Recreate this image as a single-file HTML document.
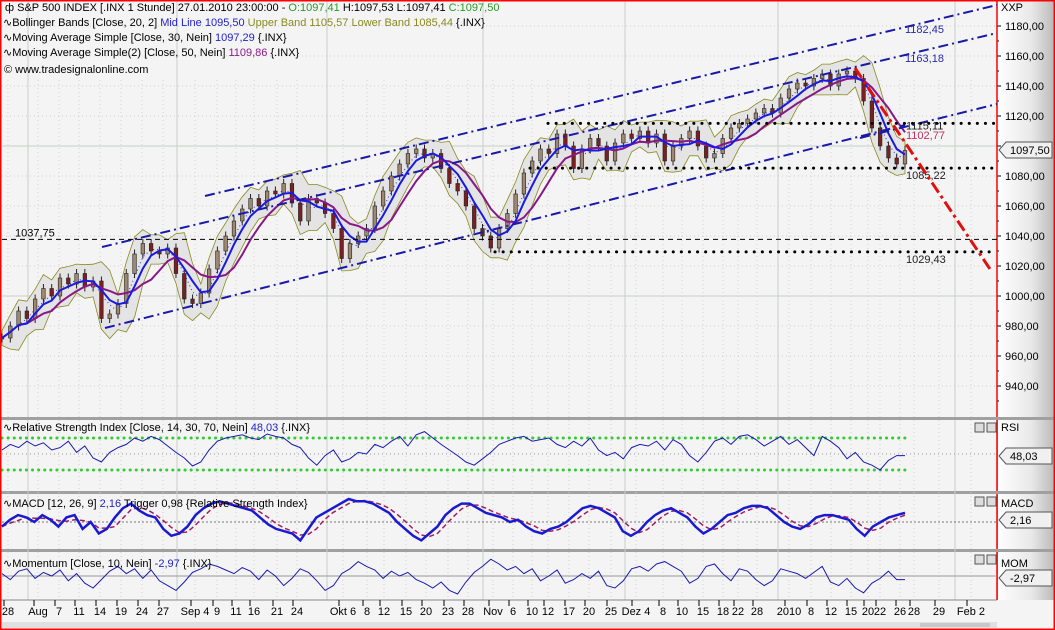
<!DOCTYPE html>
<html><head><meta charset="utf-8"><style>
html,body{margin:0;padding:0;background:#fff}
svg{display:block;font-family:"Liberation Sans",sans-serif}
</style></head><body>
<svg id="c" width="1055" height="630" viewBox="0 0 1055 630" xmlns="http://www.w3.org/2000/svg">
<defs>
<linearGradient id="ax" x1="0" x2="1" y1="0" y2="0"><stop offset="0" stop-color="#ffffff"/><stop offset="0.6" stop-color="#e8e8e8"/><stop offset="1" stop-color="#b8b8b8"/></linearGradient>
</defs>
<rect x="0" y="0" width="1055" height="630" fill="#f4f4f4"/>
<rect x="997" y="0" width="58" height="600" fill="url(#ax)"/>
<g id="grid"></g>
<g id="main"></g>
<g id="ind"></g>
<g id="xaxis"></g>
<g font-size="11" fill="#000">
<text x="5" y="11">ф S&amp;P 500 INDEX [.INX  1 Stunde] 27.01.2010 23:00:00 - <tspan fill="#2a9a2a">O:1097,41</tspan> H:1097,53 L:1097,41 <tspan fill="#2a9a2a">C:1097,50</tspan></text>
<text x="3" y="26">∿Bollinger Bands [Close, 20, 2] <tspan fill="#2222cc">Mid Line 1095,50</tspan> <tspan fill="#8a8a20">Upper Band 1105,57</tspan> <tspan fill="#8a8a20">Lower Band 1085,44</tspan> {.INX}</text>
<text x="3" y="41">∿Moving Average Simple [Close, 30, Nein] <tspan fill="#2222cc">1097,29</tspan> {.INX}</text>
<text x="3" y="56">∿Moving Average Simple(2) [Close, 50, Nein] <tspan fill="#8a1a8a">1109,86</tspan> {.INX}</text>
<text x="4" y="73">© www.tradesignalonline.com</text>
</g>
<rect x="0" y="0" width="1055" height="630" fill="none" stroke="#ff0000" stroke-width="3"/>
</svg>
<script>
const closes=[972,980,990,985,998,1005,1000,1012,1008,1015,1006,1010,985,988,995,1015,1028,1035,1030,1028,1032,1015,998,995,1002,1018,1030,1040,1050,1058,1065,1060,1070,1068,1075,1062,1050,1065,1062,1055,1045,1025,1035,1040,1045,1060,1070,1080,1088,1095,1098,1092,1095,1085,1075,1070,1060,1045,1040,1032,1045,1055,1068,1082,1090,1098,1095,1108,1100,1085,1098,1105,1100,1090,1102,1108,1105,1110,1102,1108,1090,1100,1105,1110,1100,1092,1095,1105,1112,1115,1118,1122,1125,1122,1132,1138,1142,1140,1145,1148,1140,1148,1150,1145,1130,1112,1100,1092,1088,1097];
const rsiVals=[55,62,58,66,60,64,55,58,66,52,60,45,40,52,58,62,70,66,72,68,60,52,45,35,40,55,66,70,72,74,70,68,75,72,70,62,58,45,36,48,55,40,44,52,50,62,58,66,72,60,74,78,70,62,55,48,40,36,44,52,62,66,70,72,66,68,70,62,58,66,60,70,55,48,52,44,58,62,60,66,55,68,62,48,40,52,66,70,62,72,74,68,60,66,72,62,68,58,48,72,66,58,44,52,40,36,30,42,48,48];
const macdVals=[-2,1,3,2,0,3,1,-2,2,3,-3,0,-5,-3,2,6,8,5,3,2,-3,-6,-5,-2,3,6,8,9,8,7,6,5,2,-1,-3,-4,-5,-8,-3,2,4,6,8,10,9,9,8,6,4,0,-3,-6,-8,-5,-2,3,6,8,8,6,4,3,2,0,1,-2,-4,-5,-3,-2,0,3,6,7,6,4,2,-4,-6,-4,0,3,5,6,4,2,-2,-5,-3,0,3,4,6,7,7,6,3,0,-2,-3,-1,2,3,3,2,1,-3,-6,-2,0,2,3,4];
const momVals=[2,-3,4,6,-2,3,0,5,-4,2,-6,-10,-3,4,8,2,6,-2,5,-4,-8,-12,-5,3,6,10,8,5,2,7,4,-3,5,0,-8,-2,6,3,-4,-12,-8,2,6,12,8,5,-2,4,0,3,-3,-6,-10,-5,-12,-15,-5,3,8,14,10,5,8,2,6,-4,0,5,-6,-3,2,-2,4,-8,-10,-4,6,8,4,10,12,8,4,-6,-2,8,10,2,-4,6,4,-3,-8,-4,6,4,2,-2,3,8,-5,-8,-2,-10,-14,-6,-2,4,-3,-3];
const priceTicks=[1180,1160,1140,1120,1100,1080,1060,1040,1020,1000,980,960,940];
const hLevels=[1115.11,1085.22,1029.43];
const hLevelLabels=["1115,11","1085,22","1029,43"];
const dateLabels=["28","Aug","7","11","14","19","24","27","Sep 4","9","11","16","21","24","Okt 6","8","12","15","20","23","28","Nov","6","10","12","17","20","25","Dez 4","8","10","15","18","22","28","2010","8","12","15","20","22","26","28","29","Feb 2"];
const datePos=[8,38,59,79,100,121,142,163,195,217,236,254,277,297,343,367,384,406,426,448,468,493,513,532,548,569,589,611,636,663,682,703,723,738,757,789,811,831,851,868,880,900,914,939,971];
const NS="http://www.w3.org/2000/svg";
function mk(tag,attrs,parent){const e=document.createElementNS(NS,tag);for(const k in attrs)e.setAttribute(k,attrs[k]);parent.appendChild(e);return e;}
const X0=2,X1=905;
function xi(i,n){return X0+(X1-X0)*i/(n-1);}
function yP(p){return 176+(1080-p)*1.5;}
function yR(v){return 470-(v-30)*0.8;}
function yM(v){return 522-v*2.3;}
function yO(v){return 576-v*1.2;}
function roll(a,w){return a.map((_,i)=>{const s=a.slice(Math.max(0,i-w+1),i+1);return s.reduce((x,y)=>x+y,0)/s.length;});}
function sd(a,w){return a.map((_,i)=>{const s=a.slice(Math.max(0,i-w+1),i+1);const m=s.reduce((x,y)=>x+y,0)/s.length;return Math.sqrt(s.reduce((x,y)=>x+(y-m)*(y-m),0)/s.length);});}
function pts(arr,yf){return arr.map((v,i)=>xi(i,arr.length).toFixed(1)+","+yf(v).toFixed(1)).join(" ");}
const grid=document.getElementById('grid'),main=document.getElementById('main'),ind=document.getElementById('ind'),xa=document.getElementById('xaxis');
[28,177,327,483,625,778,955].forEach(x=>{const l=mk('line',{x1:x,x2:x,y1:0,y2:600,stroke:'#c8d0c8','stroke-width':1},grid);});
datePos.forEach(x=>{const l=mk('line',{x1:x,x2:x,y1:80,y2:600,stroke:'#d4d4d4','stroke-dasharray':'1,3'},grid);});
priceTicks.forEach(p=>{const y=yP(p);const solid=(p%100===0);const l=mk('line',{x1:2,x2:997,y1:y,y2:y,stroke:solid?'#c8d0c8':'#d0d0d0','stroke-dasharray':solid?'':'1,3'},grid);
 const t=mk('line',{x1:997,x2:1001,y1:y,y2:y,stroke:'#000'},grid);
 mk('line',{x1:997,x2:999,y1:y+15,y2:y+15,stroke:'#000'},grid);
 const tx=mk('text',{x:1005,y:y+4,'font-size':11},grid);tx.textContent=p.toFixed(2).replace('.',',');});
mk('line',{x1:997,x2:997,y1:0,y2:600,stroke:'#ff0000','stroke-width':1.5},grid);
const mid=roll(closes,3),dev=sd(closes,3);
const up=mid.map((m,i)=>m+1.6*dev[i]+5),lo=mid.map((m,i)=>m-1.6*dev[i]-5);
const band=mk('polygon',{points:pts(up,yP)+" "+pts(lo,yP).split(" ").reverse().join(" "),fill:'#e4e4e4',stroke:'#8a8a20','stroke-width':0.8},main);

const ml=mk('polyline',{points:pts(mid,yP),fill:'none',stroke:'#3333cc','stroke-width':1,'stroke-dasharray':'1,3'},main);

closes.forEach((c,i)=>{const o=i?closes[i-1]:c;const x=xi(i,closes.length);const hi=Math.max(o,c)+3,lw=Math.min(o,c)-3;
 const w=mk('line',{x1:x,x2:x,y1:yP(hi),y2:yP(lw),stroke:'#222','stroke-width':1},main);
 const r=mk('rect',{x:x-1.8,y:yP(Math.max(o,c)),width:3.6,height:Math.max(1,Math.abs(yP(o)-yP(c))),fill:c>=o?'#a08870':'#7a2020',stroke:'#222','stroke-width':0.6},main);});
const ma30=roll(closes,4),ma50=roll(closes,7);
const m1=mk('polyline',{points:pts(ma50,yP),fill:'none',stroke:'#881888','stroke-width':2},main);
const m2=mk('polyline',{points:pts(ma30,yP),fill:'none',stroke:'#1a1ae0','stroke-width':2},main);
[[105,328,905,125],[102,247,997,33],[205,196,997,5],[860,138,997,104]].forEach(s=>{const l=mk('line',{x1:s[0],y1:s[1],x2:s[2],y2:s[3],stroke:'#1a1aaa','stroke-width':2,'stroke-dasharray':'10,4,2,4'},main);});
const dl=mk('line',{x1:2,x2:997,y1:yP(1037.75),y2:yP(1037.75),stroke:'#000','stroke-dasharray':'5,4'},main);
const dt=mk('text',{x:15,y:yP(1037.75)-3,'font-size':11},main);dt.textContent='1037,75';
const starts=[548,530,495];
hLevels.forEach((v,i)=>{const l=mk('line',{x1:starts[i],x2:997,y1:yP(v),y2:yP(v),stroke:'#000','stroke-width':3,'stroke-dasharray':'0.1,8','stroke-linecap':'round'},main);
 const t=mk('text',{x:906,y:yP(v)+(i===0?6:11),'font-size':11,fill:'#222'},main);t.textContent=hLevelLabels[i];});
const t2=mk('text',{x:906,y:139,'font-size':11,fill:'#c03060'},main);t2.textContent='1102,77';
[["1182,45",905,33],["1163,18",905,62]].forEach(a=>{const t=mk('text',{x:a[1],y:a[2],'font-size':11,fill:'#2a2aaa'},main);t.textContent=a[0];});
const rl=mk('line',{x1:855,y1:68,x2:992,y2:272,stroke:'#e01010','stroke-width':3,'stroke-dasharray':'12,4,3,4'},main);
function tag(y,txt,name){const g=mk('g',{},ind);
 mk('path',{d:`M999 ${y} L1006 ${y-8} L1052 ${y-8} L1052 ${y+8} L1006 ${y+8} Z`,fill:'#f0f0f0',stroke:'#555'},g);
 const t=mk('text',{x:1010,y:y+4,'font-size':11},g);t.textContent=txt;}
tag(150,'1097,50','last-price-tag');
mk('text',{x:1001,y:11,'font-size':11},ind).textContent='XXP';
function pane(y0,y1,name){const r=mk('rect',{x:0,y:y0,width:997,height:y1-y0,fill:'#f4f4f4'},ind);
 const s=mk('rect',{x:0,y:y0-3,width:1055,height:3,fill:'#a0a0a0'},ind);
 mk('line',{x1:997,x2:997,y1:y0,y2:y1,stroke:'#ff0000','stroke-width':1.5},ind);
 [975,987].forEach((x,k)=>{const b=mk('rect',{x:x,y:y0+3,width:9,height:9,fill:'#ddd',stroke:'#555'},ind);});}
mk('line',{x1:0,x2:997,y1:418,y2:418,stroke:'#ff0000','stroke-width':1.5},ind);
pane(420,490,'rsi-pane');pane(494,548,'macd-pane');pane(552,600,'momentum-pane');
datePos.forEach(x=>{mk('line',{x1:x,x2:x,y1:420,y2:600,stroke:'#d0d0d0','stroke-dasharray':'1,3'},ind);});
[28,177,327,483,625,778,955].forEach(x=>{mk('line',{x1:x,x2:x,y1:420,y2:600,stroke:'#c8d0c8'},ind);});
[70,30].forEach(v=>{const l=mk('line',{x1:2,x2:905,y1:yR(v),y2:yR(v),stroke:'#33cc33','stroke-width':3,'stroke-dasharray':'0.1,6','stroke-linecap':'round'},ind);});
mk('line',{x1:2,x2:997,y1:yR(50),y2:yR(50),stroke:'#999','stroke-dasharray':'1,3'},ind);
const rp=mk('polyline',{points:pts(rsiVals,yR),fill:'none',stroke:'#1a1ab0','stroke-width':1},ind);
mk('line',{x1:2,x2:997,y1:yM(0),y2:yM(0),stroke:'#777','stroke-dasharray':'2,2'},ind);
const trig=roll(macdVals,3);
const tp=mk('polyline',{points:pts(trig,yM),fill:'none',stroke:'#a02060','stroke-width':1.5,'stroke-dasharray':'5,3'},ind);
const mp=mk('polyline',{points:pts(macdVals,yM),fill:'none',stroke:'#1a1ad0','stroke-width':2.5},ind);
mk('line',{x1:2,x2:997,y1:yO(0),y2:yO(0),stroke:'#999'},ind);
const op=mk('polyline',{points:pts(momVals,yO),fill:'none',stroke:'#1a1ab0','stroke-width':1},ind);
[[431,'∿Relative Strength Index [Close, 14, 30, 70, Nein] ','48,03','#2222cc',' {.INX}','RSI'],[507,'∿MACD [12, 26, 9] ','2,16','#2222cc',' Trigger 0,98 {Relative Strength Index}','MACD'],[567,'∿Momentum [Close, 10, Nein] ','-2,97','#2222cc',' {.INX}','MOM']].forEach(h=>{
 const t=mk('text',{x:3,y:h[0],'font-size':11},ind);
 t.appendChild(document.createTextNode(h[1]));const s=mk('tspan',{fill:h[3]},t);s.textContent=h[2];t.appendChild(document.createTextNode(h[4]));
 const r=mk('text',{x:1001,y:h[0],'font-size':11},ind);r.textContent=h[5];});
tag(456,'48,03','rsi-value-tag');tag(520,'2,16','macd-value-tag');tag(578,'-2,97','momentum-value-tag');
mk('rect',{x:0,y:600,width:1055,height:22,fill:'#f4f4f4'},xa);
mk('line',{x1:0,x2:997,y1:600,y2:600,stroke:'#888'},xa);
dateLabels.forEach((d,i)=>{const x=datePos[i];const tk=mk('line',{x1:x-4,x2:x-4,y1:600,y2:606,stroke:'#000'},xa);
 const t=mk('text',{x:x,y:615,'font-size':11,'text-anchor':'middle'},xa);t.textContent=d;});
const sb=mk('rect',{x:2,y:622,width:995,height:6,fill:'#e0e0e0'},xa);
mk('rect',{x:920,y:623,width:70,height:4,fill:'#c8c8c8'},xa);
</script>
</body></html>
